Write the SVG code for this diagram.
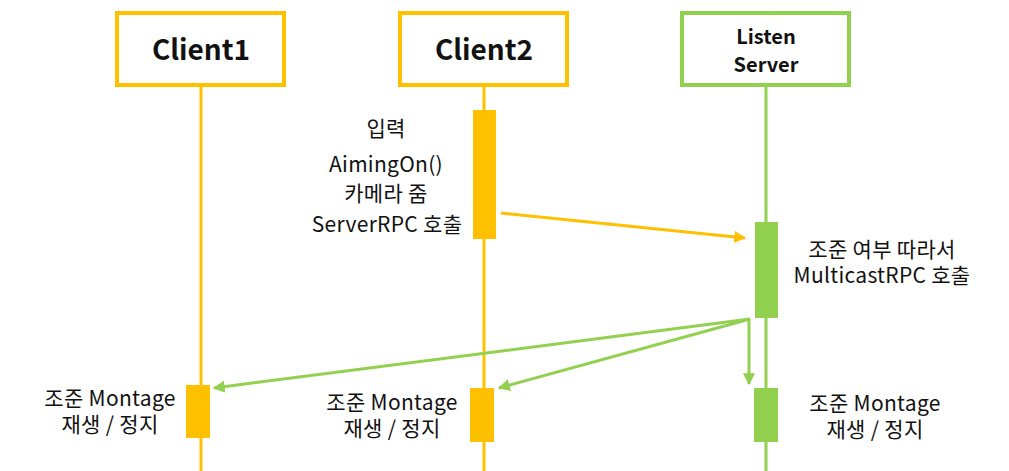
<svg xmlns="http://www.w3.org/2000/svg" width="1009" height="471" viewBox="0 0 1009 471">
<defs>
<style>
.y{stroke:#FFC000;fill:none}
.g{stroke:#92D050;fill:none}
.box{fill:#fff;stroke-width:4}
.life{stroke-width:3}
.ybar{fill:#FFC000}
.gbar{fill:#92D050}
.t{font-family:"Noto Sans CJK KR","Noto Sans",sans-serif;font-size:21px;letter-spacing:0.3px;fill:#111;text-anchor:middle}
.h{font-family:"Noto Sans CJK KR","Noto Sans",sans-serif;font-weight:bold;fill:#111;text-anchor:middle}
.arr{stroke-width:3}
</style>
<marker id="ay" viewBox="0 0 10 10" refX="9" refY="5" markerWidth="4" markerHeight="4" orient="auto"><path d="M0,0 L10,5 L0,10 Z" fill="#FFC000"/></marker>
<marker id="ag" viewBox="0 0 10 10" refX="9" refY="5" markerWidth="4" markerHeight="4" orient="auto"><path d="M0,0 L10,5 L0,10 Z" fill="#92D050"/></marker>
</defs>
<rect width="1009" height="471" fill="#fff"/>
<g id="lifelines">
<line class="y life" x1="201" y1="87" x2="201" y2="471"/>
<line class="y life" x1="484" y1="87" x2="484" y2="471"/>
<line class="g life" x1="766" y1="87" x2="766" y2="471"/>
</g>
<g id="client1">
<rect class="y box" x="117" y="13" width="167" height="72"/>
<text class="h" x="201" y="60" font-size="28">Client1</text>
</g>
<g id="client2">
<rect class="y box" x="400" y="13" width="167" height="72"/>
<text class="h" x="484" y="60" font-size="28">Client2</text>
</g>
<g id="server">
<rect class="g box" x="682" y="13" width="167" height="72"/>
<text class="h" font-size="20"><tspan x="766" y="44">Listen</tspan><tspan x="766" y="72">Server</tspan></text>
</g>
<g id="client2-act">
<rect class="ybar" x="473" y="110" width="23" height="129"/>
<text class="t"><tspan x="386" y="136">입력</tspan><tspan x="386" y="172">AimingOn()</tspan><tspan x="386" y="201">카메라 줌</tspan><tspan x="387" y="232">ServerRPC 호출</tspan></text>
</g>
<g id="server-act">
<rect class="gbar" x="755" y="222" width="23" height="96"/>
<text class="t"><tspan x="882" y="257">조준 여부 따라서</tspan><tspan x="882" y="283">MulticastRPC 호출</tspan></text>
</g>
<g id="client1-play">
<rect class="ybar" x="186" y="385" width="24" height="53"/>
<text class="t"><tspan x="110" y="406">조준 Montage</tspan><tspan x="110" y="432">재생 / 정지</tspan></text>
</g>
<g id="client2-play">
<rect class="ybar" x="470" y="388" width="24" height="54"/>
<text class="t"><tspan x="392" y="410">조준 Montage</tspan><tspan x="392" y="436">재생 / 정지</tspan></text>
</g>
<g id="server-play">
<rect class="gbar" x="754" y="388" width="24" height="54"/>
<text class="t"><tspan x="875" y="411">조준 Montage</tspan><tspan x="875" y="437">재생 / 정지</tspan></text>
</g>
<g id="connectors">
<line class="y arr" x1="501" y1="213" x2="745" y2="238" marker-end="url(#ay)"/>
<line class="g arr" x1="750" y1="319" x2="214" y2="388" marker-end="url(#ag)"/>
<line class="g arr" x1="750" y1="319" x2="499" y2="388" marker-end="url(#ag)"/>
<line class="g arr" x1="749" y1="319" x2="749" y2="384" marker-end="url(#ag)"/>
</g>
</svg>
